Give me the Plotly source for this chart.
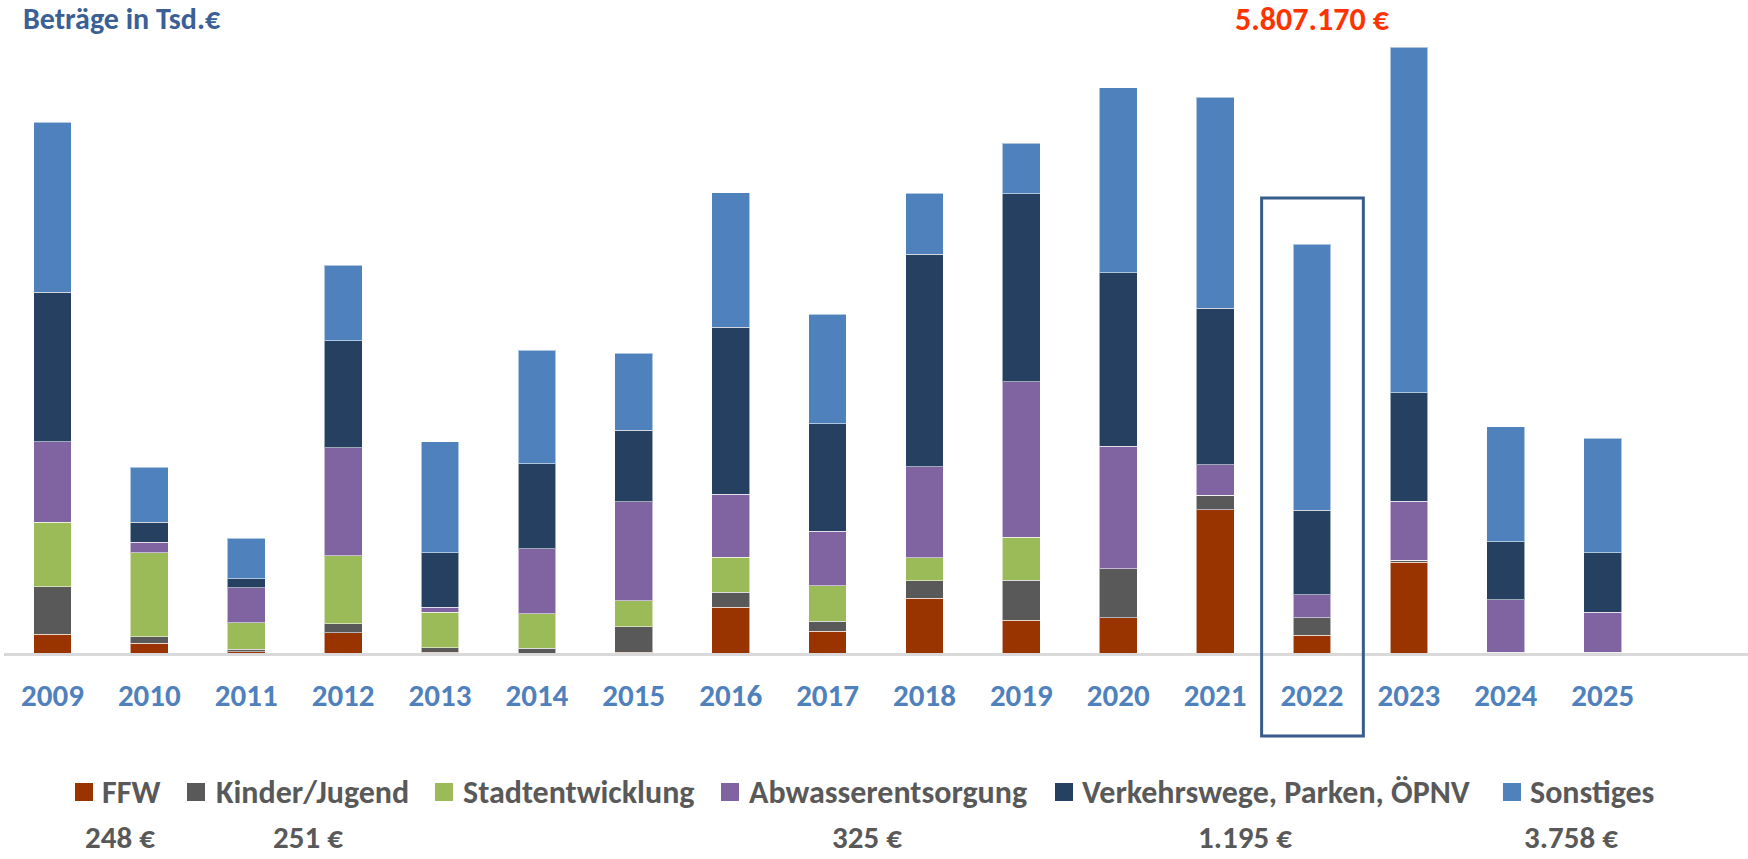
import plotly.graph_objects as go

# Investitionen je Bereich, Beträge in Tsd.€
years = ["2009", "2010", "2011", "2012", "2013", "2014", "2015", "2016", "2017",
         "2018", "2019", "2020", "2021", "2022", "2023", "2024", "2025"]
ffw = [263, 137, 20, 288, 9, 0, 14, 650, 306, 772, 465, 500, 2023, 248, 1280, 0, 0]
kinder_jugend = [673, 91, 35, 126, 66, 66, 358, 207, 141, 250, 565, 687, 208, 251, 28, 11, 11]
stadtentwicklung = [910, 1188, 374, 961, 499, 490, 363, 499, 504, 325, 605, 0, 0, 0, 0, 0, 0]
abwasser = [1138, 152, 496, 1522, 71, 918, 1399, 890, 768, 1286, 2200, 1736, 431, 325, 836, 745, 563]
verkehr = [2114, 278, 126, 1517, 772, 1201, 1013, 2355, 1521, 3000, 2655, 2449, 2209, 1195, 1536, 819, 842]
sonstiges = [2402, 779, 571, 1062, 1568, 1601, 1088, 1905, 1550, 862, 715, 2614, 2981, 3758, 4882, 1622, 1622]

series_names = ["FFW", "Kinder/Jugend", "Stadtentwicklung", "Abwasserentsorgung",
                "Verkehrswege, Parken, ÖPNV", "Sonstiges"]
series_values = [ffw, kinder_jugend, stadtentwicklung, abwasser, verkehr, sonstiges]
series_colors = ["#993300", "#595959", "#9bbb59", "#8064a2", "#254061", "#4f81bd"]

highlight_year = "2022"
highlight_total = "5.807.170 €"

FONT = "Carlito, Lato, sans-serif"
W, H = 1748, 859
left, plot_h = 4, 653
plot_w = W - left

# Legendenpositionen (Pixel) und Lage der 2022-Werte darunter
legend_marker_x = [84, 196, 444, 730, 1064, 1512]
legend_text_x = [100, 214, 461, 747, 1080, 1528]
value_x = [120, 308, None, 867, 1245, 1571]
legend_y, value_y = 792, 837


def px_x(p):
    return (p - left) / plot_w


def px_y(p):
    return (plot_h - p) / plot_h


xs = list(range(len(years)))
fig = go.Figure()
for name, vals, col in zip(series_names, series_values, series_colors):
    fig.add_trace(go.Bar(
        x=xs, y=vals, name=name, width=0.39, showlegend=False,
        marker=dict(color=col, line=dict(color="rgba(255,255,255,0.55)", width=1)),
    ))

hi = years.index(highlight_year)

annotations = [
    dict(text="<b>Beträge in Tsd.€</b>", x=px_x(21), y=px_y(18), xref="paper", yref="paper",
         xanchor="left", yanchor="middle", showarrow=False,
         font=dict(family=FONT, size=30, color="#3a6095")),
    dict(text="<b>" + highlight_total + "</b>", x=hi, y=px_y(19), xref="x", yref="paper",
         xanchor="center", yanchor="middle", showarrow=False,
         font=dict(family=FONT, size=32, color="#ff3300")),
]
shapes = []

# Legende von Hand, damit die Abstände wie im Original sitzen
for name, col, mx, tx in zip(series_names, series_colors, legend_marker_x, legend_text_x):
    shapes.append(dict(type="rect", xref="paper", yref="paper",
                       x0=px_x(mx - 9), x1=px_x(mx + 9),
                       y0=px_y(legend_y + 9), y1=px_y(legend_y - 9),
                       fillcolor=col, line=dict(width=0)))
    annotations.append(dict(
        text="<b>" + name + "</b>", x=px_x(tx), y=px_y(legend_y), xref="paper", yref="paper",
        xanchor="left", yanchor="middle", showarrow=False,
        font=dict(family=FONT, size=32, color="#595959")))

# Werte 2022 je Bereich
for vals, xp in zip(series_values, value_x):
    v = vals[hi]
    if xp is None or v == 0:
        continue
    label = f"{v:,}".replace(",", ".") + " €"
    annotations.append(dict(
        text="<b>" + label + "</b>", x=px_x(xp), y=px_y(value_y), xref="paper", yref="paper",
        xanchor="center", yanchor="middle", showarrow=False, borderpad=0,
        font=dict(family=FONT, size=31, color="#595959")))

shapes.append(dict(
    type="rect", xref="x", yref="paper",
    x0=hi - 0.52, x1=hi + 0.53, y0=px_y(736), y1=px_y(198),
    line=dict(color="#385d8a", width=3), fillcolor="rgba(0,0,0,0)",
))

fig.update_layout(
    width=W, height=H,
    barmode="stack",
    plot_bgcolor="white", paper_bgcolor="white",
    margin=dict(l=left, r=0, t=0, b=H - plot_h, pad=0),
    xaxis=dict(
        range=[-0.5, 17.5], tickmode="array", tickvals=xs, ticktext=years,
        tickfont=dict(family=FONT, size=31, color="#4f81bd", weight="bold"),
        showline=True, linecolor="#d9d9d9", linewidth=3, showgrid=False,
        ticks="", ticklabelstandoff=13, zeroline=False,
    ),
    yaxis=dict(range=[0, plot_h * 14.13], visible=False, showgrid=False),
    annotations=annotations,
    shapes=shapes,
    showlegend=False,
)

fig.write_html("out.html", config={"displayModeBar": False},
               post_script="document.body.style.margin='0';")
